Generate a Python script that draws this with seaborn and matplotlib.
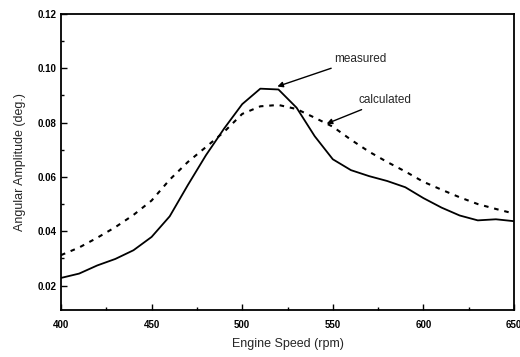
import matplotlib
matplotlib.use("Agg")
import matplotlib.pyplot as plt
import seaborn as sns
import pandas as pd
from matplotlib.ticker import MultipleLocator, FormatStrFormatter

rpm = [400, 410, 420, 430, 440, 450, 460, 470, 480, 490, 500, 510, 520,
       530, 540, 550, 560, 570, 580, 590, 600, 610, 620, 630, 640, 650]
measured = [0.0228, 0.0244, 0.0274, 0.0298, 0.0330, 0.0379, 0.0455, 0.0570,
            0.0680, 0.0778, 0.0868, 0.0925, 0.0922, 0.0855, 0.0750, 0.0665,
            0.0625, 0.0603, 0.0585, 0.0562, 0.0522, 0.0487, 0.0458, 0.0440,
            0.0444, 0.0437]
calculated = [0.0312, 0.0340, 0.0376, 0.0415, 0.0460, 0.0513, 0.0590, 0.0655,
              0.0710, 0.0766, 0.0832, 0.0860, 0.0865, 0.0850, 0.0818, 0.0785,
              0.0737, 0.0693, 0.0655, 0.0620, 0.0582, 0.0553, 0.0525, 0.0500,
              0.0482, 0.0465]

df = pd.DataFrame({"rpm": rpm, "measured": measured, "calculated": calculated})

sns.set_style("ticks")
plt.rcParams["font.family"] = ["Liberation Sans", "DejaVu Sans"]

fig = plt.figure(figsize=(5.2, 3.57), dpi=100)
ax = fig.add_axes([0.1173, 0.1317, 0.8712, 0.8291])

sns.lineplot(data=df, x="rpm", y="measured", ax=ax, color="black", linewidth=1.3)
sns.lineplot(data=df, x="rpm", y="calculated", ax=ax, color="black", linewidth=1.5,
             linestyle=(0, (2.2, 2.8)))

ax.set_xlim(400, 650)
ax.set_ylim(0.011, 0.12)
ax.xaxis.set_major_locator(MultipleLocator(50))
ax.xaxis.set_minor_locator(MultipleLocator(25))
ax.yaxis.set_major_locator(MultipleLocator(0.02))
ax.yaxis.set_minor_locator(MultipleLocator(0.01))
ax.yaxis.set_major_formatter(FormatStrFormatter("%.2f"))
ax.tick_params(which="both", direction="in", width=1.0, labelsize=7, colors="black")
ax.tick_params(which="major", length=4)
ax.tick_params(which="minor", length=2)
ax.tick_params(axis="x", pad=7)
for lab in ax.get_xticklabels() + ax.get_yticklabels():
    lab.set_fontweight("bold")
for s in ax.spines.values():
    s.set_visible(True)
    s.set_linewidth(1.3)
    s.set_color("black")

ax.set_xlabel("Engine Speed (rpm)", fontsize=9, labelpad=6)
ax.set_ylabel("Angular Amplitude (deg.)", fontsize=9, labelpad=8)

ax.annotate("measured", xy=(519.4, 0.0933), xytext=(550.5, 0.1036),
            fontsize=8.5, ha="left", va="center",
            arrowprops=dict(arrowstyle="-|>", color="black", lw=1.0,
                            mutation_scale=8, shrinkA=1, shrinkB=0))
ax.annotate("calculated", xy=(546.6, 0.0796), xytext=(564.0, 0.0882),
            fontsize=8.5, ha="left", va="center",
            arrowprops=dict(arrowstyle="-|>", color="black", lw=1.0,
                            mutation_scale=8, shrinkA=0, shrinkB=0))

fig.savefig("out.png", dpi=100)
